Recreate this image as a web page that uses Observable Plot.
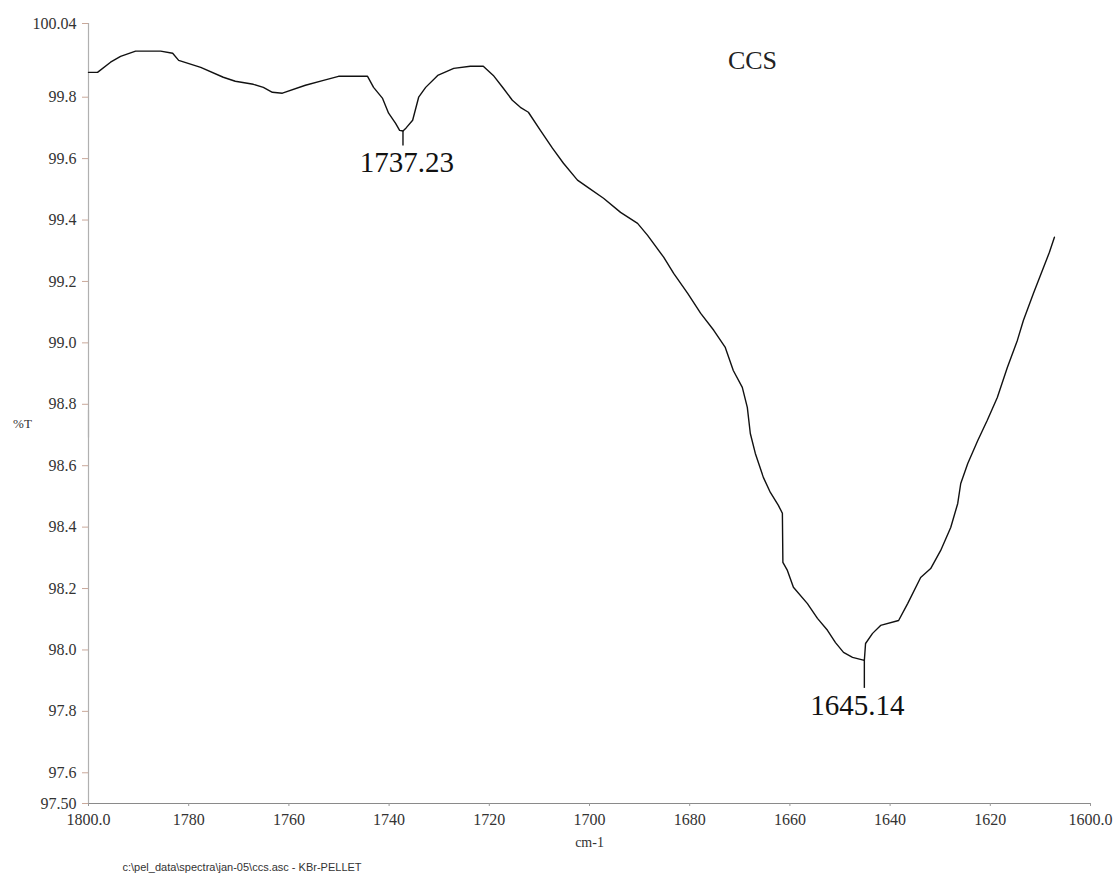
<!DOCTYPE html>
<html>
<head>
<meta charset="utf-8">
<script src="https://cdn.jsdelivr.net/npm/d3@7"></script>
<script src="https://cdn.jsdelivr.net/npm/@observablehq/plot@0.6"></script>
<style>
  html, body { margin: 0; padding: 0; background: #fff; }
  #chart svg { display: block; }
  #chart svg [aria-label="x-axis tick label"],
  #chart svg [aria-label="y-axis tick label"] {
    font-family: "Liberation Serif", "Times New Roman", Times, serif !important;
    font-size: 16px !important;
  }
  #chart svg .serif-text { font-family: "Liberation Serif", "Times New Roman", Times, serif !important; }
  #chart svg .sans-text { font-family: "Liberation Sans", Arial, Helvetica, sans-serif !important; }
</style>
</head>
<body>
<div id="chart"></div>
<script>
// ---- data ----
const wavenumber = [
  1800.0, 1798.2, 1795.6, 1793.6, 1790.6, 1785.6, 1783.2, 1782.0, 1777.6, 1773.1,
  1770.7, 1767.1, 1765.1, 1763.3, 1761.3, 1756.7, 1753.1, 1750.1, 1744.3, 1743.1,
  1741.3, 1740.1, 1738.7, 1737.9, 1737.23, 1736.6, 1735.3, 1734.1, 1732.7, 1730.3,
  1727.1, 1723.8, 1721.2, 1719.2, 1717.2, 1715.4, 1713.8, 1712.2, 1709.8, 1707.4,
  1705.2, 1702.4, 1700.4, 1697.2, 1693.8, 1690.4, 1688.4, 1685.2, 1683.2, 1680.4,
  1677.8, 1675.2, 1672.9, 1671.3, 1669.5, 1668.5, 1667.9, 1666.9, 1665.3, 1663.9,
  1662.3, 1661.5, 1661.4, 1660.5, 1659.3, 1656.5, 1654.5, 1652.5, 1650.9, 1649.3,
  1647.5, 1645.14, 1644.9, 1643.5, 1641.9, 1638.3, 1636.5, 1633.9, 1631.9, 1629.9,
  1627.9, 1626.5, 1625.9, 1624.5, 1622.5, 1620.6, 1618.6, 1616.6, 1614.6, 1613.4,
  1611.4, 1608.2, 1607.2
];
const transmittance = [
  99.881, 99.881, 99.914, 99.933, 99.950, 99.950, 99.943, 99.920, 99.897, 99.865,
  99.852, 99.842, 99.832, 99.816, 99.813, 99.839, 99.855, 99.868, 99.868, 99.832,
  99.796, 99.748, 99.715, 99.692, 99.690, 99.700, 99.725, 99.800, 99.832, 99.871,
  99.894, 99.901, 99.901, 99.871, 99.829, 99.790, 99.767, 99.751, 99.692, 99.634,
  99.585, 99.530, 99.507, 99.471, 99.425, 99.389, 99.350, 99.279, 99.226, 99.161,
  99.096, 99.041, 98.985, 98.910, 98.855, 98.790, 98.705, 98.640, 98.562, 98.513,
  98.471, 98.445, 98.285, 98.259, 98.204, 98.151, 98.103, 98.064, 98.024, 97.992,
  97.976, 97.966, 98.021, 98.054, 98.080, 98.096, 98.151, 98.236, 98.265, 98.324,
  98.399, 98.477, 98.542, 98.607, 98.682, 98.748, 98.822, 98.920, 99.008, 99.073,
  99.161, 99.295, 99.344
];
const peakWavenumbers = [1737.23, 1645.14];
const peakTransmittance = [99.690, 97.966];
const peakLabels = ["1737.23", "1645.14"];

const xTickValues = [1800, 1780, 1760, 1740, 1720, 1700, 1680, 1660, 1640, 1620, 1600];
const xTickLabels = ["1800.0", "1780", "1760", "1740", "1720", "1700", "1680", "1660", "1640", "1620", "1600.0"];
const yTickValues = [97.5, 97.6, 97.8, 98.0, 98.2, 98.4, 98.6, 98.8, 99.0, 99.2, 99.4, 99.6, 99.8, 100.04];
const yTickLabels = ["97.50", "97.6", "97.8", "98.0", "98.2", "98.4", "98.6", "98.8", "99.0", "99.2", "99.4", "99.6", "99.8", "100.04"];
// y-axis line is broken where the "%T" label sits
const yAxisFrom = [97.5, 98.69];
const yAxisTo = [98.78, 100.04];

const titleText = "CCS";
const yLabelText = "%T";
const xLabelText = "cm-1";
const footerText = "c:\\pel_data\\spectra\\jan-05\\ccs.asc - KBr-PELLET";

// ---- build tables ----
const spectrum = wavenumber.map((w, i) => ({w, t: transmittance[i]}));
const peaks = peakWavenumbers.map((w, i) => ({w, t: peakTransmittance[i], label: peakLabels[i]}));
const yAxisSegs = yAxisFrom.map((f, i) => ({from: f, to: yAxisTo[i]}));
const xFmt = (v) => xTickLabels[xTickValues.indexOf(v)];
const yFmt = (v) => yTickLabels[yTickValues.indexOf(v)];

const serif = "Liberation Serif, Times New Roman, Times, serif";
const sans = "Liberation Sans, Arial, Helvetica, sans-serif";
const peakStyle = [
  {tick: 15, dy: 32, dx: 4},
  {tick: 28, dy: 45, dx: -7}
];

const marks = [
  // axis lines
  Plot.ruleY([97.5], {stroke: "#8a8a8a", strokeWidth: 1.2}),
  Plot.ruleX(yAxisSegs, {x: () => 1800, y1: "from", y2: "to", stroke: "#b0b0b0", strokeWidth: 1.2}),
  Plot.axisX({
    ticks: xTickValues, tickFormat: xFmt, tickSize: 3, tickPadding: 7,
    fontSize: 16, fontFamily: serif, fill: "#333", stroke: "#999", label: null
  }),
  Plot.axisY({
    ticks: yTickValues, tickFormat: yFmt, tickSize: 6, tickPadding: 6,
    fontSize: 16, fontFamily: serif, fill: "#333", stroke: "#c9a89a", label: null
  }),
  // spectrum
  Plot.line(spectrum, {x: "w", y: "t", stroke: "#111", strokeWidth: 1.4, curve: "linear"}),
  // titles and labels
  Plot.text([titleText], {className: "serif-text", frameAnchor: "top-left", lineAnchor: "middle", dx: 664, dy: 37, text: d => d, fontSize: 26, fontFamily: serif, fill: "#222", textAnchor: "middle"}),
  Plot.text([yLabelText], {className: "serif-text", frameAnchor: "left", lineAnchor: "middle", dx: -66, dy: 10, text: d => d, fontSize: 13, fontFamily: serif, fill: "#333", textAnchor: "middle"}),
  Plot.text([xLabelText], {className: "serif-text", frameAnchor: "bottom", lineAnchor: "middle", dy: 39, text: d => d, fontSize: 14, fontFamily: serif, fill: "#333", textAnchor: "middle"}),
  Plot.text([footerText], {className: "sans-text", frameAnchor: "bottom-left", lineAnchor: "middle", dx: 34, dy: 64, text: d => d, fontSize: 11, fontFamily: sans, fill: "#333", textAnchor: "start"})
];

// peak markers and labels
peaks.forEach((p, i) => {
  const s = peakStyle[i];
  marks.push(Plot.ruleX([p], {x: "w", y1: "t", y2: "t", insetBottom: -s.tick, stroke: "#111", strokeWidth: 1.4}));
  marks.push(Plot.text([p], {className: "serif-text", x: "w", y: "t", text: "label", dy: s.dy, dx: s.dx, fontSize: 29, fontFamily: serif, fill: "#111", textAnchor: "middle", lineAnchor: "middle"}));
});

const chart = Plot.plot({
  width: 1120,
  height: 876,
  marginLeft: 88,
  marginRight: 30,
  marginTop: 23,
  marginBottom: 73,
  style: {background: "#fff", fontFamily: serif, overflow: "visible"},
  x: {domain: [1800, 1600]},
  y: {domain: [97.5, 100.04]},
  marks
});
document.getElementById("chart").appendChild(chart);
</script>
</body>
</html>
